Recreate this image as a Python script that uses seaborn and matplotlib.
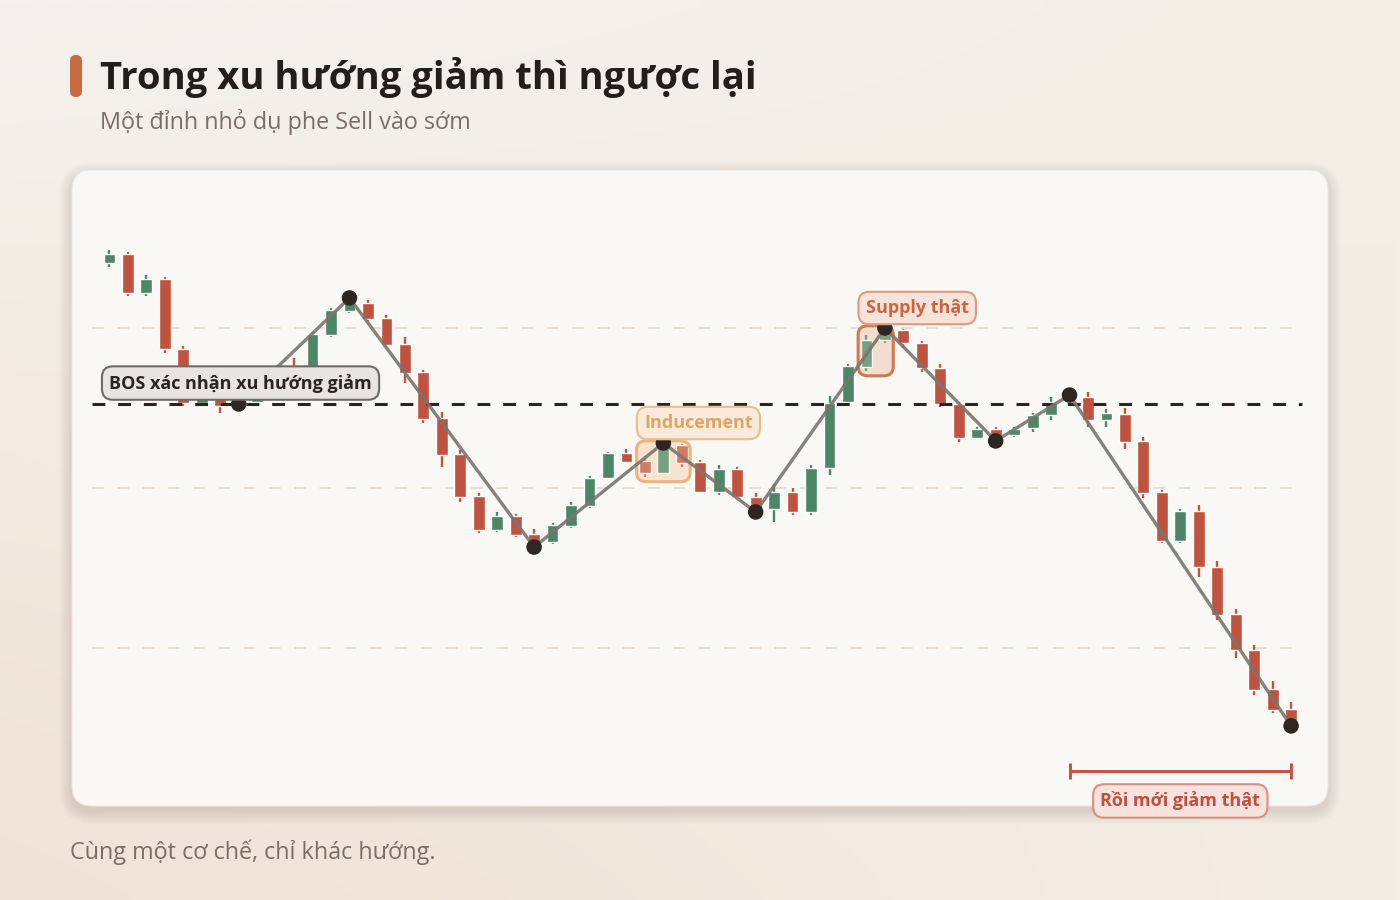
import numpy as np
import pandas as pd
import matplotlib
matplotlib.use("Agg")
import matplotlib.pyplot as plt
from matplotlib.patches import FancyBboxPatch
import seaborn as sns

# --- data (OHLC) ---
opens = [34.06, 34.63, 32.19, 33.06, 28.69, 25.31, 25.69, 25.38, 25.38, 26.00,
         27.63, 27.38, 29.56, 31.06, 31.56, 30.63, 29.00, 27.25, 24.38, 22.13,
         19.50, 17.38, 18.25, 17.13, 16.63, 17.63, 18.88, 20.63, 22.19, 21.69,
         20.94, 22.69, 21.63, 19.75, 21.19, 19.44, 18.69, 19.75, 18.50, 21.25,
         25.38, 27.56, 29.25, 29.88, 29.06, 27.50, 25.25, 23.13, 23.69, 23.31,
         23.75, 24.56, 25.38, 25.69, 24.25, 24.63, 22.94, 19.75, 16.69, 18.56,
         15.06, 12.13, 9.88, 7.44, 6.19]
highs = [34.88, 34.75, 33.31, 33.19, 28.88, 26.00, 25.88, 25.94, 26.25, 27.06,
         28.13, 29.75, 31.25, 31.88, 31.75, 30.81, 29.44, 27.38, 24.75, 22.38,
         19.69, 18.50, 18.38, 17.44, 17.81, 19.13, 20.75, 22.25, 22.44, 21.88,
         22.81, 22.75, 21.75, 21.44, 21.31, 19.69, 20.25, 20.00, 21.44, 25.75,
         27.75, 29.56, 30.00, 29.94, 29.19, 27.75, 25.38, 23.81, 23.81, 23.81,
         24.69, 25.69, 25.81, 26.00, 24.94, 25.00, 23.19, 19.88, 18.69, 18.94,
         15.44, 12.44, 10.19, 7.94, 6.63]
lows = [33.81, 32.00, 32.00, 28.44, 25.13, 25.19, 24.69, 25.25, 25.25, 25.75,
        26.75, 27.13, 29.44, 30.94, 30.38, 28.81, 26.56, 24.06, 21.31, 19.13,
        17.19, 17.25, 16.94, 16.31, 16.50, 17.50, 18.75, 20.56, 21.56, 20.69,
        20.88, 21.31, 19.69, 19.56, 19.38, 18.50, 17.88, 18.31, 18.31, 20.81,
        25.31, 27.31, 29.06, 28.75, 27.25, 25.06, 22.88, 23.06, 22.94, 23.19,
        23.50, 24.25, 25.25, 23.81, 23.81, 22.44, 19.38, 16.56, 16.56, 14.44,
        11.75, 9.38, 7.06, 5.94, 5.13]
closes = [34.63, 32.19, 33.06, 28.69, 25.31, 25.81, 25.13, 25.75, 26.06, 26.88,
          27.00, 29.63, 31.13, 31.63, 30.56, 28.94, 27.19, 24.31, 22.06, 19.44,
          17.38, 18.25, 17.06, 16.56, 17.69, 18.94, 20.63, 22.19, 21.63, 20.94,
          22.69, 21.56, 19.75, 21.19, 19.44, 18.69, 19.75, 18.50, 21.25, 25.31,
          27.63, 29.25, 29.88, 29.06, 27.50, 25.25, 23.13, 23.69, 23.19, 23.69,
          24.56, 25.38, 25.63, 24.25, 24.69, 22.88, 19.69, 16.69, 18.56, 15.06,
          12.06, 9.88, 7.38, 6.13, 5.31]

pivot_idx = [7, 13, 23, 30, 35, 42, 48, 52, 64]
pivot_side = ["low", "high", "low", "high", "low", "high", "low", "high", "low"]
bos_level = 25.25
grid_levels = [10, 20, 30]

inducement_bars = [29, 31]
supply_bars = [41, 42]
drop_bars = [52, 64]

title = "Trong xu hướng giảm thì ngược lại"
subtitle = "Một đỉnh nhỏ dụ phe Sell vào sớm"
footer = "Cùng một cơ chế, chỉ khác hướng."
lbl_bos = "BOS xác nhận xu hướng giảm"
lbl_ind = "Inducement"
lbl_sup = "Supply thật"
lbl_drop = "Rồi mới giảm thật"

GREEN = "#4b8667"
RED = "#c0533f"
INK = "#2b2420"

sns.set_theme(style="white")
plt.rcParams["font.family"] = ["Open Sans", "DejaVu Sans"]

df = pd.DataFrame({"o": opens, "h": highs, "l": lows, "c": closes})
df["i"] = np.arange(len(df))
df["up"] = df["c"] >= df["o"]
df["col"] = np.where(df["up"], GREEN, RED)

fig = plt.figure(figsize=(14, 9), dpi=100)

# background + panel in pixel coords
bg = fig.add_axes([0, 0, 1, 1], zorder=-5)
bg.set_xlim(0, 1400)
bg.set_ylim(900, 0)
bg.axis("off")
gy, gx = np.mgrid[0:1:90j, 0:1:140j]
c_tl = np.array([244, 241, 236]) / 255
c_bl = np.array([240, 226, 214]) / 255
c_r = np.array([244, 237, 230]) / 255
w = (1 - gx)[..., None]
grad = w * ((1 - gy)[..., None] * c_tl + gy[..., None] * c_bl) + (1 - w) * c_r
bg.imshow(grad, extent=(0, 1400, 900, 0), aspect="auto", interpolation="bilinear")

for k in range(14):
    bg.add_patch(FancyBboxPatch((72 - k, 172 - k + 3), 1256 + 2 * k, 636 + 2 * k,
                                boxstyle="round,pad=0,rounding_size=%d" % (20 + k),
                                fc="#8a7460", ec="none", alpha=0.012))
bg.add_patch(FancyBboxPatch((72, 170), 1256, 636, boxstyle="round,pad=0,rounding_size=20",
                            fc="#faf8f5", ec="#ece6df", lw=0.8))
bg.add_patch(FancyBboxPatch((70, 55), 12, 42, boxstyle="round,pad=0,rounding_size=6",
                            fc="#c76a3d", ec="none"))

fig.text(100 / 1400, 1 - 78 / 900, title, fontsize=27.5, fontweight="bold", color="#241d19", va="center")
fig.text(100 / 1400, 1 - 122 / 900, subtitle, fontsize=16.8, color="#7a6e66", va="center")
fig.text(70 / 1400, 1 - 852 / 900, footer, fontsize=16.8, color="#7a6e66", va="center")

# chart axes
ax = fig.add_axes([72 / 1400, 94 / 900, 1256 / 1400, 636 / 900])
ax.set_facecolor("none")
ax.set_xlim(-2.03, 66.0)
ax.set_ylim(0.125, 39.875)

for g in grid_levels:
    ax.plot([-0.95, 64.6], [g, g], color="#e7ded3", lw=1.4, dashes=(6, 7), zorder=1)
ax.plot([-0.95, 64.6], [bos_level, bos_level], color=INK, lw=2.2, dashes=(4.2, 4.2), zorder=3)

# candles
ax.vlines(df["i"], df["l"], df["h"], colors=df["col"], lw=1.7, zorder=2)
body = (df["c"] - df["o"]).abs().clip(lower=0.12)
ax.bar(df["i"], body, bottom=df[["o", "c"]].min(axis=1), width=0.64, color=df["col"], zorder=2)

# highlight boxes: tinted fill under the candles, outline above
def hl_box(bars, fc, ec):
    a, b = bars
    lo = min(lows[a:b + 1]) - 0.3
    hi = max(highs[a:b + 1]) + 0.14
    ax.add_patch(FancyBboxPatch((a - 0.45, lo), b - a + 0.9, hi - lo,
                                boxstyle="round,pad=0,rounding_size=0.55",
                                fc=fc, ec="none", zorder=1.5))
    ax.add_patch(FancyBboxPatch((a - 0.45, lo), b - a + 0.9, hi - lo,
                                boxstyle="round,pad=0,rounding_size=0.55",
                                fc=fc, ec="none", alpha=0.28, zorder=3))
    ax.add_patch(FancyBboxPatch((a - 0.45, lo), b - a + 0.9, hi - lo,
                                boxstyle="round,pad=0,rounding_size=0.55",
                                fc="none", ec=ec, lw=2.2, zorder=3))

hl_box(inducement_bars, "#f7e4d0", "#e9b57a")
hl_box(supply_bars, "#f2ddd0", "#cf7a4c")

# zigzag swings
piv = pd.DataFrame({"i": pivot_idx,
                    "p": [lows[i] if s == "low" else highs[i] for i, s in zip(pivot_idx, pivot_side)]})
sns.lineplot(data=piv, x="i", y="p", ax=ax, sort=False, color="#7b746e", lw=2.4, alpha=0.9, zorder=4)
sns.scatterplot(data=piv, x="i", y="p", ax=ax, s=125, color="#2d2621", edgecolor="none", zorder=6)
ax.set_xlabel("")
ax.set_ylabel("")
ax.axis("off")

# drop range
a, b = drop_bars
yb = 2.31
ax.plot([a, b], [yb, yb], color="#c4554a", lw=2.2, zorder=4)
ax.vlines([a, b], yb - 0.5, yb + 0.5, color="#c4554a", lw=2.2, zorder=4)

def tag(x, y, s, fc, ec, tc):
    ax.text(x, y, s, ha="center", va="center", fontsize=13, fontweight="bold", color=tc, zorder=8,
            bbox=dict(boxstyle="round,pad=0.4,rounding_size=0.6", fc=fc, ec=ec, lw=1.5))

tag(7.1, 26.56, lbl_bos, "#e7e4e1", "#6f6a66", INK)
tag(31.9, 24.06, lbl_ind, "#f9ead9", "#ecbd88", "#e0a465")
tag(43.75, 31.25, lbl_sup, "#f6e4da", "#dc9a7e", "#c9663e")
tag(58.0, 0.44, lbl_drop, "#f7e2dd", "#db8e84", "#c04f3f")

fig.savefig("out.png", dpi=100)
